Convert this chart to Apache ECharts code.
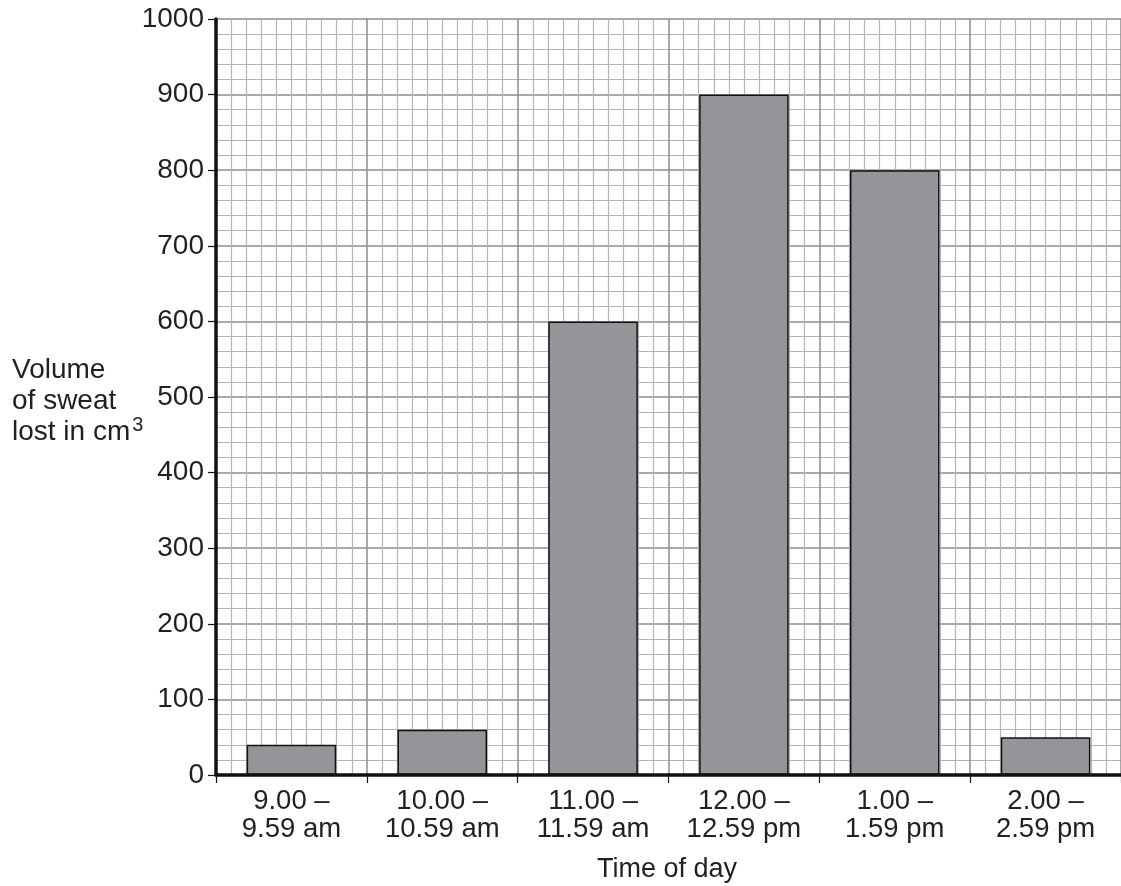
<!DOCTYPE html>
<html><head><meta charset="utf-8">
<script src="https://cdn.jsdelivr.net/npm/echarts@6/dist/echarts.min.js"></script>
<style>html,body{margin:0;padding:0;background:#fff}#c{width:1121px;height:886px}</style>
</head><body><div id="c"></div>
<script>
var categories = ['9.00 –\n9.59 am', '10.00 –\n10.59 am', '11.00 –\n11.59 am', '12.00 –\n12.59 pm', '1.00 –\n1.59 pm', '2.00 –\n2.59 pm'];
var sweatVolume = [40, 60, 600, 900, 800, 50];
var yTicks = [0, 100, 200, 300, 400, 500, 600, 700, 800, 900, 1000];

var FONT = '"Liberation Sans", Arial, sans-serif';
var TXT = '#231f20';
var chart = echarts.init(document.getElementById('c'), null, {renderer: 'canvas'});
chart.setOption({
  animation: false,
  backgroundColor: '#fff',
  grid: {left: 216, top: 19, width: 909, height: 756, containLabel: false},
  xAxis: [{
    type: 'category', data: categories, boundaryGap: true,
    axisLine: {show: true, onZero: false, lineStyle: {color: '#111', width: 3.5}},
    axisTick: {show: true, alignWithLabel: false, length: 8, lineStyle: {color: '#111', width: 1.2}},
    axisLabel: {color: TXT, fontFamily: FONT, fontSize: 27.5, lineHeight: 28, margin: 12},
    splitLine: {show: false}, z: 5
  }, {
    type: 'value', min: 0, max: 6, interval: 1, position: 'bottom',
    axisLine: {show: false}, axisTick: {show: false}, axisLabel: {show: false},
    splitLine: {show: true, lineStyle: {color: '#8c8c8c', width: 1.5}},
    minorTick: {show: false, splitNumber: 10},
    minorSplitLine: {show: true, lineStyle: {color: '#b4b4b4', width: 1.2}}
  }],
  yAxis: {
    type: 'value', min: 0, max: 1000, interval: 100,
    axisLine: {show: true, lineStyle: {color: '#111', width: 3.5}},
    axisTick: {show: true, length: 8, lineStyle: {color: '#111', width: 1.2}},
    axisLabel: {color: TXT, fontFamily: FONT, fontSize: 28, margin: 12,
      formatter: function (v) { return yTicks.indexOf(v) >= 0 ? String(v) : ''; }},
    splitLine: {show: true, lineStyle: {color: '#8c8c8c', width: 1.5}},
    minorTick: {show: false, splitNumber: 5},
    minorSplitLine: {show: true, lineStyle: {color: '#b4b4b4', width: 1.2}}
  },
  series: [{
    type: 'bar', xAxisIndex: 0, data: sweatVolume, barWidth: '59.4%',
    itemStyle: {color: '#939598', borderColor: '#111', borderWidth: 1.5},
    z: 3
  }],
  graphic: [{
    type: 'text', left: 12, top: 356,
    style: {
      text: '{a|Volume}\n{a|of sweat}\n{a|lost in cm}{s|3}',
      rich: {
        a: {fontFamily: FONT, fontSize: 28, lineHeight: 31, fill: TXT, verticalAlign: 'bottom'},
        s: {fontFamily: FONT, fontSize: 20, lineHeight: 31, fill: TXT, verticalAlign: 'bottom', padding: [0, 0, 11, 2]}
      },
      fill: TXT
    }
  }, {
    type: 'text', left: 597, top: 856,
    style: {text: 'Time of day', fontFamily: FONT, fontSize: 27, fill: TXT}
  }]
});
</script></body></html>
